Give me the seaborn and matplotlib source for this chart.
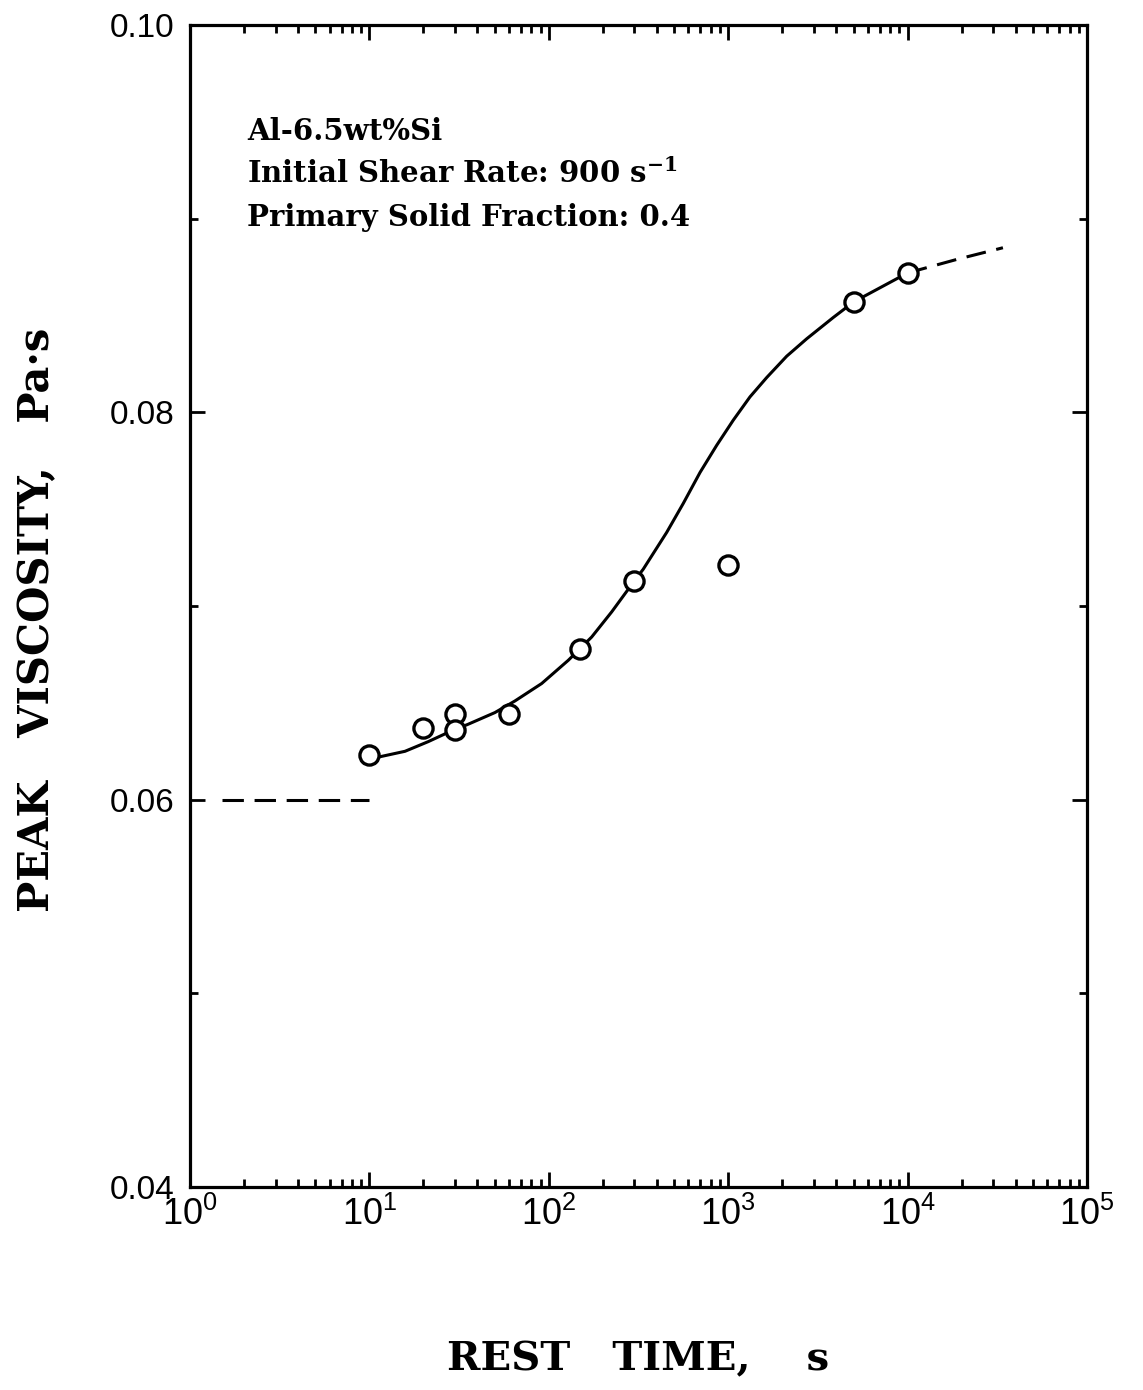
import numpy as np
import pandas as pd
import matplotlib
matplotlib.use("Agg")
import matplotlib.pyplot as plt
from matplotlib.ticker import FixedLocator, LogLocator, NullFormatter
import seaborn as sns

# measured points
rest_time = [10, 20, 30, 30, 60, 150, 300, 1000, 5000, 10000]
peak_visc = [0.0623, 0.0637, 0.0644, 0.0636, 0.0644, 0.0678, 0.0713, 0.0721, 0.0857, 0.0872]

# fitted curve (solid part)
fit_time = [10, 15.8, 21.3, 26.4, 35.6, 50.1, 64.8, 91.3, 128.5, 173.4, 224.3, 300,
            336, 454, 562, 697, 863, 1068, 1323, 1640, 2119, 2740, 3854, 5000, 10000]
fit_visc = [0.0621, 0.0625, 0.0630, 0.0634, 0.0639, 0.0645, 0.0651, 0.0660, 0.0672,
            0.0684, 0.0697, 0.0713, 0.0719, 0.0738, 0.0753, 0.0769, 0.0783, 0.0796,
            0.0808, 0.0818, 0.0829, 0.0838, 0.0849, 0.0857, 0.0872]

# dashed extrapolations
left_time = [1.5, 10]
left_visc = [0.060, 0.060]
right_time = [10000, 18850, 34000]
right_visc = [0.0872, 0.0879, 0.0885]

y_major = [0.04, 0.06, 0.08, 0.10]
y_minor = [0.05, 0.07, 0.09]
y_labels = ["0.04", "0.06", "0.08", "0.10"]
x_major = [1, 10, 100, 1000, 10000, 100000]
x_labels = [r"$\mathregular{10^{%d}}$" % i for i in range(6)]

note = ["Al-6.5wt%Si",
        r"Initial Shear Rate: 900 s$^{\mathbf{-1}}$",
        "Primary Solid Fraction: 0.4"]

sns.set_style("ticks")
plt.rcParams["font.family"] = ["Liberation Sans", "DejaVu Sans"]
plt.rcParams["mathtext.fontset"] = "custom"
plt.rcParams["mathtext.rm"] = "DejaVu Serif"
plt.rcParams["mathtext.bf"] = "DejaVu Serif:bold"
for k in ["text.color", "axes.labelcolor", "xtick.color", "ytick.color", "axes.edgecolor"]:
    plt.rcParams[k] = "black"

fig = plt.figure(figsize=(11.43, 13.9), dpi=100)
ax = fig.add_axes([0.1662, 0.146, 0.7848, 0.836])

pts = pd.DataFrame({"t": rest_time, "v": peak_visc})
fit = pd.DataFrame({"t": fit_time, "v": fit_visc})

sns.lineplot(data=fit, x="t", y="v", ax=ax, color="black", lw=2.2,
             sort=False, estimator=None, zorder=2)
ax.plot(left_time, left_visc, color="black", lw=2.2, dashes=(7, 3.5), zorder=2)
ax.plot(right_time, right_visc, color="black", lw=2.2, dashes=(6.5, 3.5), zorder=2)
sns.scatterplot(data=pts, x="t", y="v", ax=ax, marker="o", s=190,
                facecolor="white", edgecolor="black", linewidth=2.4, zorder=3)

ax.set_xscale("log")
ax.set_xlim(1, 1e5)
ax.set_ylim(0.04, 0.10)

ax.xaxis.set_major_locator(FixedLocator(x_major))
ax.xaxis.set_minor_locator(LogLocator(base=10, subs=np.arange(2, 10)))
ax.xaxis.set_minor_formatter(NullFormatter())
ax.set_xticklabels(x_labels)
ax.yaxis.set_major_locator(FixedLocator(y_major))
ax.yaxis.set_minor_locator(FixedLocator(y_minor))
ax.set_yticklabels(y_labels)

for sp in ax.spines.values():
    sp.set_linewidth(2.3)
    sp.set_color("black")

ax.tick_params(which="both", direction="in", top=True, right=True, color="black", width=2.0)
ax.tick_params(which="major", length=11)
ax.tick_params(which="minor", length=6)
ax.tick_params(axis="x", which="major", labelsize=26, pad=7)
ax.tick_params(axis="y", which="major", labelsize=24, pad=11)

ax.set_xlabel("REST   TIME,    s", family="DejaVu Serif", weight="bold", size=29)
ax.set_ylabel("PEAK   VISCOSITY,   Pa·s", family="DejaVu Serif", weight="bold", size=30)
ax.xaxis.set_label_coords(0.5, -0.132)
ax.yaxis.set_label_coords(-0.147, 0.488)

for i, line in enumerate(note):
    ax.text(0.064, 0.901 - i * 0.037, line, transform=ax.transAxes,
            family="DejaVu Serif", weight="bold", size=21, va="baseline")

fig.savefig("out.png", dpi=100)
